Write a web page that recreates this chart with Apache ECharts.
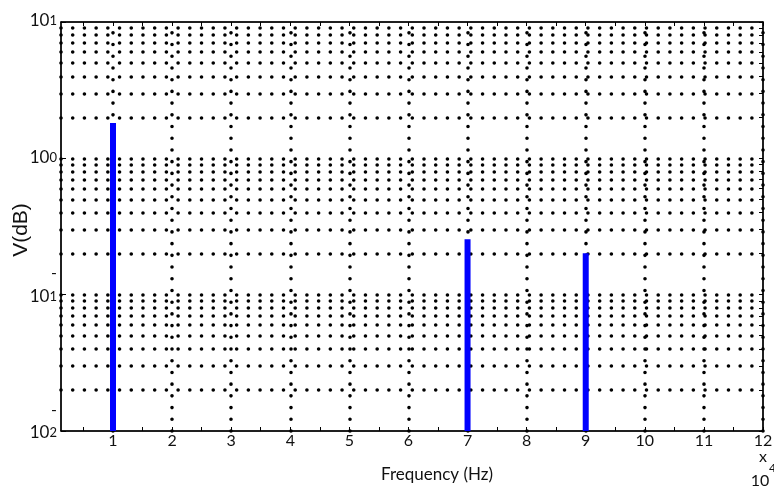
<!DOCTYPE html>
<html>
<head>
<meta charset="utf-8">
<script src="https://cdn.jsdelivr.net/npm/echarts@6/dist/echarts.min.js"></script>
<style>
html,body{margin:0;padding:0;background:#fff;}
#c{width:774px;height:490px;}
</style>
</head>
<body>
<div id="c"></div>
<script>
// Data (x in units of 10^4 Hz)
const xTickValues = [1,2,3,4,5,6,7,8,9,10,11,12];
const xMinorTicks = [0.5,1,1.5,2,2.5,3,3.5,4,4.5,5,5.5,6,6.5,7,7.5,8,8.5,9,9.5,10,10.5,11,11.5,12];
const yDecades = [0.01, 0.1, 1, 10];
const yGridValues = [0.02,0.03,0.04,0.05,0.06,0.07,0.08,0.09,0.1,0.2,0.3,0.4,0.5,0.6,0.7,0.8,0.9,1,2,3,4,5,6,7,8,9];
const spikeFreq = [1, 7, 9];
const spikeAmp = [1.82, 0.255, 0.201];
const xMin = 0.12, xMax = 12, yMin = 0.01, yMax = 10;

const chart = echarts.init(document.getElementById('c'));
const dotStyle = {color:'#000', width:3.6, type:[0.01, 11.7], cap:'round'};

const spikeSeries = spikeFreq.map((f, i) => ({
  type:'line', xAxisIndex:0, yAxisIndex:0, z:5,
  showSymbol:false, symbol:'none', silent:true,
  lineStyle:{color:'#0000ff', width:6},
  data:[[f, yMin], [f, spikeAmp[i]]]
}));

const gridSeries = {
  type:'line', xAxisIndex:0, yAxisIndex:0, z:2, silent:true, data:[],
  markLine:{
    silent:true, symbol:['none','none'], label:{show:false},
    animation:false,
    lineStyle:dotStyle,
    data: yGridValues.map(v => ({yAxis:v})).concat(xTickValues.map(v => ({xAxis:v})))
  }
};

function yLabel(v){
  const e = Math.round(Math.log10(v));
  if (e >= 0) return '{b|10}{s|' + e + '}';
  return '{m|-}\n{b|10}{s|' + (-e) + '}\n{e| }';
}

const font = 'Lato';
const txt = '#111';
chart.setOption({
  animation:false,
  grid:{left:61, right:11, top:22, bottom:59, containLabel:false, outerBoundsMode:'none',
        show:true, borderColor:'#000', borderWidth:1},
  xAxis:[{
    type:'value', min:xMin, max:xMax, position:'bottom',
    axisLine:{show:true, onZero:false, lineStyle:{color:'#000', width:1.5}},
    axisTick:{show:true, inside:true, length:4, customValues:xMinorTicks, lineStyle:{color:'#000'}},
    axisLabel:{customValues:xTickValues, fontFamily:font, fontSize:16, color:txt, margin:2},
    splitLine:{show:false}
  },{
    type:'value', min:xMin, max:xMax, position:'top',
    axisLine:{show:true, onZero:false, lineStyle:{color:'#000', width:1.5}},
    axisTick:{show:true, inside:true, length:4, customValues:xMinorTicks, lineStyle:{color:'#000'}},
    axisLabel:{show:false}, splitLine:{show:false}
  }],
  yAxis:[{
    type:'log', logBase:10, min:yMin, max:yMax, position:'left',
    axisLine:{show:true, lineStyle:{color:'#000', width:1.5}},
    axisTick:{show:true, inside:true, length:5, customValues:yDecades, lineStyle:{color:'#000'}},
    axisLabel:{customValues:yDecades, margin:4, formatter:yLabel, color:txt,
      rich:{
        b:{fontFamily:font, fontSize:17, lineHeight:15, verticalAlign:'bottom', color:txt},
        s:{fontFamily:font, fontSize:13, lineHeight:12, padding:[0,0,8,0], verticalAlign:'top', color:txt},
        m:{fontFamily:font, fontSize:16, lineHeight:34, color:txt},
        e:{fontFamily:font, fontSize:10, lineHeight:28}
      }},
    splitLine:{show:false}, minorSplitLine:{show:false}
  },{
    type:'log', logBase:10, min:yMin, max:yMax, position:'right',
    axisLine:{show:true, lineStyle:{color:'#000', width:1.5}},
    axisTick:{show:true, inside:true, length:4, customValues:yGridValues.concat(yDecades), lineStyle:{color:'#000'}},
    axisLabel:{show:false}, splitLine:{show:false}
  }],
  graphic:[
    {type:'text', x:21, y:230, rotation:Math.PI/2, style:{text:'V(dB)', fontFamily:'Liberation Sans', fontSize:21, fill:txt, align:'center', verticalAlign:'middle'}},
    {type:'text', x:437, y:475, style:{text:'Frequency (Hz)', fontFamily:font, fontSize:17, fill:txt, align:'center', verticalAlign:'middle'}},
    {type:'text', x:763, y:457, style:{text:'x', fontFamily:font, fontSize:16, fill:txt, align:'center', verticalAlign:'middle'}},
    {type:'text', x:760, y:481, style:{text:'10', fontFamily:font, fontSize:16, fill:txt, align:'center', verticalAlign:'middle'}},
    {type:'text', x:769, y:468, style:{text:'4', fontFamily:font, fontSize:12, fill:txt, align:'left', verticalAlign:'middle'}}
  ],
  series:[gridSeries].concat(spikeSeries)
});
</script>
</body>
</html>
